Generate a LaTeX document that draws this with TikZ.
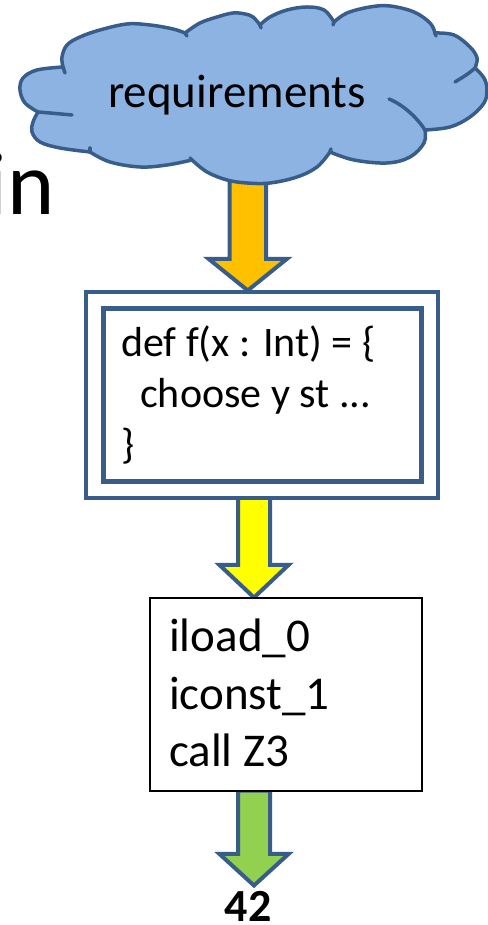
\documentclass[tikz,border=0pt]{standalone}
\usepackage{fontspec}
\setmainfont{Carlito}
\usetikzlibrary{calc}
\definecolor{edge}{HTML}{385D8A}
\definecolor{cloudfill}{HTML}{8DB3E2}
\definecolor{orangeA}{HTML}{FFC000}
\definecolor{yellowA}{HTML}{FFFF00}
\definecolor{greenA}{HTML}{92D050}
\tikzset{
  bigarrow/.style={draw=edge, line width=4pt, line join=miter},
  cloudline/.style={draw=edge, line width=3.5pt, fill=cloudfill, line join=miter},
  tailline/.style={draw=edge, line width=3.5pt, line cap=round},
  lobe/.style={smooth, tension=0.6},
  code/.style={anchor=base west, inner sep=0pt, font=\fontsize{42}{50}\selectfont},
  bcode/.style={anchor=base west, inner sep=0pt, font=\fontsize{47}{56}\selectfont},
  framebox/.style={draw=edge, fill=white, inner sep=0pt},
}
% #1 fill, #2 top coordinate, #3 tip coordinate, #4 head length, #5 shaft half width, #6 wing half width
\newcommand\blockarrow[6]{%
  \draw[bigarrow, fill=#1] let \p1=(#2), \p2=(#3) in
    (\x1-#5,\y1) -- (\x1-#5,\y2+#4) -- (\x1-#6,\y2+#4) -- (\x2,\y2)
    -- (\x1+#6,\y2+#4) -- (\x1+#5,\y2+#4) -- (\x1+#5,\y1) -- cycle;
}
\begin{document}
\begin{tikzpicture}[x=1pt,y=1pt]
\useasboundingbox (0,0) rectangle (487,925);

% left clipped word
\node[anchor=base east, inner sep=0pt, font=\fontsize{90}{100}\selectfont] (inword) at (55,710) {in};

% orange arrow (under the cloud)
\coordinate (otop) at (247.75,750);
\coordinate (otip) at (247.75,634.5);
\blockarrow{orangeA}{otop}{otip}{31.5}{18.25}{39}

% cloud
\draw[cloudline]
 plot[lobe] coordinates {(63,858) (62,868) (67,880) (80,888) (100,895) (127,901) (150,900) (173,896) (185,892)}
 -- plot[lobe] coordinates {(185,892) (200,902) (217,908) (233,912) (245,911) (253,908) (260,900)}
 -- plot[lobe] coordinates {(260,900) (270,908) (287,915) (307,918) (324,915) (334,903)}
 -- plot[lobe] coordinates {(334,903) (347,912) (370,918) (390,919) (414,913) (430,902) (435,892)}
 -- plot[lobe] coordinates {(435,892) (454,890) (470,878) (477,867) (475,857)}
 -- plot[lobe] coordinates {(475,857) (484,847) (487,835) (484,822) (470,808) (450,798) (425,795)}
 -- plot[lobe] coordinates {(425,795) (424,782) (410,768) (387,762) (354,765) (330,773)}
 -- plot[lobe] coordinates {(330,773) (317,758) (297,748) (270,742) (247,742) (227,745) (207,753) (192,765)}
 -- plot[lobe] coordinates {(192,765) (167,760) (140,758) (110,763) (90,773)}
 -- plot[lobe] coordinates {(90,773) (60,777) (40,783) (32,793) (33,803) (38,813)}
 -- plot[lobe] coordinates {(38,813) (25,822) (20,835) (23,847) (37,855) (63,858)}
 -- cycle;
% inner arcs of the cloud
\draw[tailline] (475,857) .. controls (468,851) .. (455,843);
\draw[tailline] (425,795) .. controls (418,806) and (404,820) .. (389,826);
\draw[tailline] (38,813) .. controls (50,812) .. (72,810);
\draw[tailline] (63,858) -- (65,852);
\draw[tailline] (185,892) -- (187,889);
\draw[tailline] (260,900) -- (261,897);
\draw[tailline] (334,903) -- (333,900);
\draw[tailline] (435,892) -- (436,889);
\draw[tailline] (330,773) -- (331,776);
\draw[tailline] (192,765) -- (190,767);
\draw[tailline] (90,773) -- (90,777);

\node[anchor=base, inner sep=0pt, font=\fontsize{47}{56}\selectfont] (req) at (237,817) {requirements};

% yellow arrow
\coordinate (ytop) at (254,427);
\coordinate (ytip) at (254,327.5);
\blockarrow{yellowA}{ytop}{ytip}{32.5}{16}{34.5}

% green arrow
\coordinate (gtop) at (254,134.3);
\coordinate (gtip) at (254,39.5);
\blockarrow{greenA}{gtop}{gtip}{31.5}{16}{34.5}

% double frame
\node[framebox, line width=4pt, minimum width=352pt, minimum height=206pt] (outer) at (262,530) {};
\node[framebox, line width=5pt, minimum width=317.5pt, minimum height=173pt] (inner) at (262.25,530) {};
\node[code] (c1) at (121,568) {def f(x : Int) = \{};
\node[code] (c2) at (140,517) {choose y st ...};
\node[code] (c3) at (121,466) {\}};

% bytecode box
\node[draw=black, fill=white, line width=2pt, inner sep=0pt, minimum width=271.4pt, minimum height=192.4pt] (bc) at (286,230.5) {};
\node[bcode] (b1) at (169,273) {iload\_0};
\node[bcode] (b2) at (169,215) {iconst\_1};
\node[bcode] (b3) at (169,158) {call Z3};

\node[anchor=base, inner sep=0pt, font=\bfseries\fontsize{46}{50}\selectfont] (ans) at (248,3) {42};
\end{tikzpicture}
\end{document}
